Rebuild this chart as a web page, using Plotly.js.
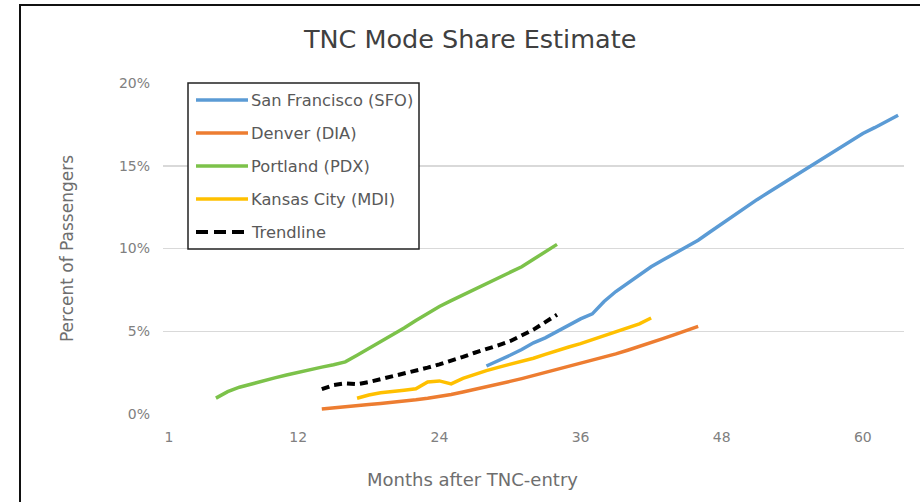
<!DOCTYPE html>
<html>
<head>
<meta charset="utf-8">
<script src="https://cdn.plot.ly/plotly-3.0.1.min.js"></script>
<style>
  html, body { margin: 0; padding: 0; background: #ffffff; }
  #wrap { position: relative; width: 920px; height: 502px; overflow: hidden; }
  #chart { width: 920px; height: 502px; }
  #frame { position: absolute; left: 19px; top: 4px; width: 910px; height: 510px;
           border-left: 2.5px solid #111; border-top: 2.5px solid #111; pointer-events: none; }
</style>
</head>
<body>
<div id="wrap">
  <div id="chart"></div>
  <div id="frame"></div>
</div>
<script>
// ---- data (percent of passengers by months after TNC entry) ----
const sfoMonths = [28,29,30,31,32,33,34,35,36,37,38,39,40,41,42,43,44,45,46,47,48,49,50,51,52,53,54,55,56,57,58,59,60,61,62,63];
const sfoValues = [2.9,3.2,3.55,3.9,4.3,4.6,5.0,5.4,5.75,6.05,6.8,7.4,7.9,8.4,8.9,9.3,9.7,10.1,10.5,11.0,11.5,11.95,12.45,12.95,13.4,13.85,14.25,14.7,15.2,15.65,16.1,16.55,16.95,17.3,17.7,18.05];

const denMonths = [14,15,16,17,18,19,20,21,22,23,24,25,26,27,28,29,30,31,32,33,34,35,36,37,38,39,40,41,42,43,44,45,46];
const denValues = [0.3,0.38,0.45,0.52,0.58,0.64,0.7,0.78,0.86,0.95,1.04,1.18,1.33,1.48,1.63,1.8,1.97,2.14,2.32,2.5,2.68,2.87,3.05,3.22,3.42,3.63,3.85,4.07,4.3,4.55,4.8,5.05,5.3];

const pdxMonths = [5,6,7,8,9,10,11,12,13,14,15,16,17,18,19,20,21,22,23,24,25,26,27,28,29,30,31,32,33,34];
const pdxValues = [0.96,1.35,1.62,1.82,2.0,2.18,2.36,2.53,2.68,2.83,2.98,3.15,3.55,3.95,4.4,4.8,5.2,5.65,6.1,6.5,6.85,7.2,7.5,7.85,8.2,8.55,8.9,9.35,9.8,10.25];

const mciMonths = [17,18,19,20,21,22,23,24,25,26,27,28,29,30,31,32,33,34,35,36,37,38,39,40,41,42];
const mciValues = [0.95,1.15,1.28,1.38,1.44,1.52,1.93,2.0,1.82,2.15,2.4,2.62,2.82,3.0,3.17,3.37,3.6,3.85,4.05,4.25,4.5,4.75,4.97,5.2,5.45,5.8];

const trendMonths = [14,15,16,17,18,19,20,21,22,23,24,25,26,27,28,29,30,31,32,33,34];
const trendValues = [1.5,1.75,1.85,1.8,1.93,2.1,2.25,2.45,2.6,2.8,3.0,3.2,3.45,3.7,3.9,4.15,4.4,4.75,5.1,5.55,6.0];

const seriesNames = ["San Francisco (SFO)", "Denver (DIA)", "Portland (PDX)", "Kansas City (MDI)", "Trendline"];
const seriesColors = ["#5B9BD5", "#ED7D31", "#7CC24A", "#FFC000", "#000000"];
const seriesDash = ["solid", "solid", "solid", "solid", "8px,5px"];

const xTickVals = [1, 12, 24, 36, 48, 60];
const xTickText = ["1", "12", "24", "36", "48", "60"];
const yTickVals = [0, 5, 10, 15, 20];
const yTickText = ["0%", "5%", "10%", "15%", "20%"];

const titleText = "TNC Mode Share Estimate";
const xTitle = "Months after TNC-entry";
const yTitle = "Percent of Passengers";

// ---- build ----
const xs = [sfoMonths, denMonths, pdxMonths, mciMonths, trendMonths];
const ys = [sfoValues, denValues, pdxValues, mciValues, trendValues];
const FONT = "DejaVu Sans, sans-serif";

const traces = seriesNames.map((name, i) => ({
  type: "scatter", mode: "lines", name: name,
  x: xs[i], y: ys[i],
  line: { color: seriesColors[i], width: i === 4 ? 4 : 3.5, dash: seriesDash[i] },
  showlegend: false, hoverinfo: "skip"
}));

// plot area in pixels
const L = 163, R = 904, T = 83, B = 414;
const px2x = p => (p - L) / (R - L);
const px2y = p => (B - p) / (B - T);

// manual legend (box, swatches, labels)
const shapes = [{
  type: "rect", xref: "paper", yref: "paper",
  x0: px2x(188), x1: px2x(419), y0: px2y(249), y1: px2y(83),
  line: { color: "#222", width: 1.5 }, fillcolor: "#ffffff", layer: "above"
}];
const annotations = [];
const rowY = [100, 133, 166, 199, 232];
seriesNames.forEach((name, i) => {
  shapes.push({
    type: "line", xref: "paper", yref: "paper",
    x0: px2x(196), x1: px2x(248), y0: px2y(rowY[i]), y1: px2y(rowY[i]),
    line: { color: seriesColors[i], width: i === 4 ? 4 : 3.5, dash: i === 4 ? "12px,6px" : "solid" },
    layer: "above"
  });
  annotations.push({
    xref: "paper", yref: "paper", x: px2x(249), y: px2y(rowY[i]),
    xanchor: "left", yanchor: "middle", showarrow: false, text: name,
    font: { family: FONT, size: 16.3, color: "#595959" }
  });
});
// x-axis title (centred on the chart, as in the reference)
annotations.push({
  xref: "paper", yref: "paper", x: px2x(472), y: px2y(479),
  xanchor: "center", yanchor: "middle", showarrow: false, text: xTitle,
  font: { family: FONT, size: 18, color: "#6e6e6e" }
});

const layout = {
  width: 920, height: 502,
  paper_bgcolor: "#ffffff", plot_bgcolor: "#ffffff",
  margin: { l: L, r: 920 - R, t: T, b: 502 - B, pad: 0 },
  title: { text: titleText, x: 0.511, xanchor: "center", y: 0.922, yanchor: "middle",
           font: { family: FONT, size: 25.5, color: "#404040" } },
  xaxis: {
    range: [0.5, 63.5], tickmode: "array", tickvals: xTickVals, ticktext: xTickText,
    showgrid: false, zeroline: false, showline: false, ticks: "",
    ticklabelstandoff: 13,
    tickfont: { family: FONT, size: 14, color: "#808080" },
    automargin: false
  },
  yaxis: {
    range: [0, 20], tickmode: "array", tickvals: yTickVals, ticktext: yTickText,
    showgrid: true, gridcolor: "#d9d9d9", gridwidth: 1.5, zeroline: false, showline: false, ticks: "",
    ticklabelstandoff: 12,
    tickfont: { family: FONT, size: 14, color: "#808080" },
    title: { text: yTitle, standoff: 40, font: { family: FONT, size: 17, color: "#6e6e6e" } },
    automargin: false
  },
  shapes: shapes,
  annotations: annotations
};

Plotly.newPlot("chart", traces, layout, { displayModeBar: false, staticPlot: true });
</script>
</body>
</html>
